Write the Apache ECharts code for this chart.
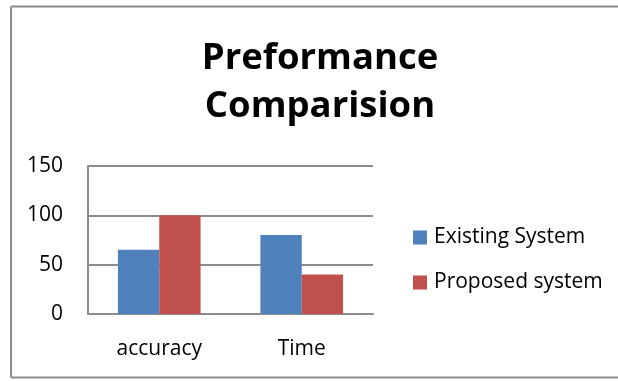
<!DOCTYPE html>
<html>
<head>
<meta charset="utf-8">
<script src="https://cdn.jsdelivr.net/npm/echarts@6/dist/echarts.min.js"></script>
<style>
  html, body { margin: 0; padding: 0; background: #fff; overflow: hidden; }
  #chart { width: 618px; height: 381px; }
</style>
</head>
<body>
<div id="chart"></div>
<script>
// Performance comparison data
const categories = ['accuracy', 'Time'];
const existingSystem = [65, 80];
const proposedSystem = [100, 40];
const seriesNames = ['Existing System', 'Proposed system'];
const yTicks = { min: 0, max: 150, interval: 50 };

const FONT = '"Open Sans", Lato, sans-serif';
const GRID_GRAY = '#8c8c8c';

const chart = echarts.init(document.getElementById('chart'), null, { renderer: 'canvas' });

chart.setOption({
  backgroundColor: '#ffffff',
  animation: false,
  // frame: left, top and bottom edges only
  graphic: [
    {
      type: 'line',
      shape: { x1: 11, y1: 6.5, x2: 618, y2: 6.5 },
      style: { stroke: GRID_GRAY, lineWidth: 2 },
      silent: true, z: -1
    },
    {
      type: 'line',
      shape: { x1: 11, y1: 6.5, x2: 11, y2: 377.5 },
      style: { stroke: GRID_GRAY, lineWidth: 2 },
      silent: true, z: -1
    },
    {
      type: 'line',
      shape: { x1: 11, y1: 377.5, x2: 618, y2: 377.5 },
      style: { stroke: GRID_GRAY, lineWidth: 2 },
      silent: true, z: -1
    }
  ],
  title: {
    text: 'Preformance\nComparision',
    left: 315,
    top: 30,
    textAlign: 'center',
    textStyle: {
      fontFamily: FONT,
      fontWeight: 'bold',
      fontSize: 36.5,
      lineHeight: 48,
      color: '#000'
    }
  },
  legend: {
    orient: 'vertical',
    left: 413,
    top: 227,
    padding: 0,
    itemWidth: 14,
    itemHeight: 14,
    itemGap: 24,
    icon: 'rect',
    textStyle: { fontFamily: FONT, fontSize: 21, color: '#000', lineHeight: 21, padding: [0, 0, 0, 2] },
    data: seriesNames
  },
  grid: {
    left: 88,
    right: 245,
    top: 166,
    bottom: 67,
    containLabel: false
  },
  xAxis: {
    type: 'category',
    data: categories,
    axisLine: { show: true, lineStyle: { color: GRID_GRAY, width: 2 } },
    axisTick: { show: false },
    axisLabel: { fontFamily: FONT, fontSize: 21, color: '#000', margin: 25 }
  },
  yAxis: {
    type: 'value',
    min: yTicks.min,
    max: yTicks.max,
    interval: yTicks.interval,
    axisLine: { show: true, lineStyle: { color: GRID_GRAY, width: 2 } },
    axisTick: { show: false },
    splitLine: { show: true, lineStyle: { color: GRID_GRAY, width: 2 } },
    axisLabel: { fontFamily: FONT, fontSize: 21, color: '#000', margin: 25 }
  },
  series: [
    {
      name: seriesNames[0],
      type: 'bar',
      data: existingSystem,
      barGap: '0%',
      barCategoryGap: '42%',
      itemStyle: { color: '#4f81bd' }
    },
    {
      name: seriesNames[1],
      type: 'bar',
      data: proposedSystem,
      barGap: '0%',
      barCategoryGap: '42%',
      itemStyle: { color: '#c0504d' }
    }
  ]
});
</script>
</body>
</html>
